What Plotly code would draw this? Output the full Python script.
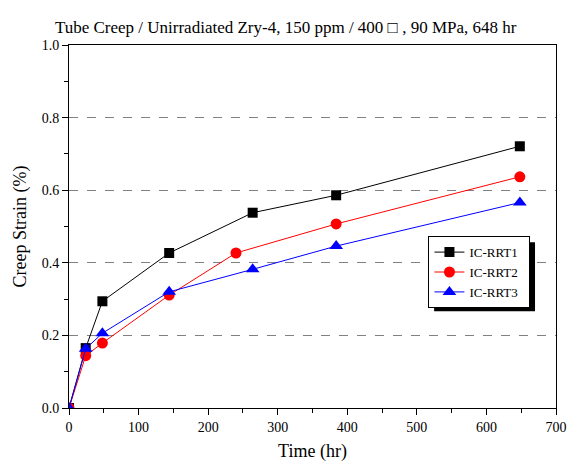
import plotly.graph_objects as go

time_rrt1 = [0, 24, 48, 144, 264, 384, 648]
strain_rrt1 = [0.0, 0.165, 0.294, 0.427, 0.538, 0.586, 0.721]
time_rrt2 = [0, 24, 48, 144, 240, 384, 648]
strain_rrt2 = [0.0, 0.144, 0.179, 0.311, 0.427, 0.507, 0.637]
time_rrt3 = [0, 24, 48, 144, 264, 384, 648]
strain_rrt3 = [0.0, 0.163, 0.206, 0.320, 0.382, 0.446, 0.566]

series = [
    ("IC-RRT1", time_rrt1, strain_rrt1, "black", "square", 10),
    ("IC-RRT2", time_rrt2, strain_rrt2, "#ff0000", "circle", 11),
    ("IC-RRT3", time_rrt3, strain_rrt3, "#0000ff", "triangle-up", 12),
]

FONT = "Liberation Serif"
fig = go.Figure()
for name, x, y, c, sym, sz in series:
    fig.add_trace(go.Scatter(x=x, y=y, name=name + "\u00a0\u00a0", mode="lines+markers",
                             line=dict(color=c, width=1),
                             marker=dict(color=c, symbol=sym, size=sz)))

W, H = 583, 470
ml, mr, mt, mb = 68.5, 27, 45, 62.3
pw, ph = W - ml - mr, H - mt - mb

def px_x(p):
    return (p - ml) / pw
def px_y(p):
    return (H - mb - p) / ph

# legend shadow
fig.add_shape(type="rect", xref="paper", yref="paper",
              x0=px_x(434), x1=px_x(535), y0=px_y(311), y1=px_y(242),
              fillcolor="black", line=dict(width=0), layer="above")

fig.update_layout(
    width=W, height=H,
    margin=dict(l=ml, r=mr, t=mt, b=mb),
    paper_bgcolor="white", plot_bgcolor="white",
    font=dict(family=FONT, size=14, color="black"),
    title=dict(text="Tube Creep / Unirradiated Zry-4, 150 ppm / 400 \u25a1 , 90 MPa, 648 hr",
               x=0.49, xanchor="center", y=0.943, yanchor="middle",
               font=dict(family=FONT, size=17, color="black")),
    showlegend=True,
    legend=dict(x=px_x(428.3), y=px_y(236), xanchor="left", yanchor="top",
                bgcolor="white", bordercolor="black", borderwidth=1,
                font=dict(family=FONT, size=13, color="black"),
                tracegroupgap=0, itemwidth=30),
    xaxis=dict(range=[0, 700], tickvals=list(range(0, 701, 100)),
               showgrid=False, zeroline=False,
               showline=True, linecolor="black", linewidth=1, mirror=True,
               ticks="outside", ticklen=6, tickcolor="black",
               minor=dict(tickvals=list(range(50, 700, 100)), ticks="outside", ticklen=4, tickcolor="black"),
               title=dict(text="Time (hr)", font=dict(family=FONT, size=18), standoff=10),
               tickfont=dict(family=FONT, size=14)),
    yaxis=dict(range=[0, 1.0], tickvals=[0, 0.2, 0.4, 0.6, 0.8, 1.0],
               ticktext=["0.0", "0.2", "0.4", "0.6", "0.8", "1.0"],
               showgrid=True, gridcolor="#808080", griddash="dash", gridwidth=1,
               zeroline=False,
               showline=True, linecolor="black", linewidth=1, mirror=True,
               ticks="outside", ticklen=6, tickcolor="black",
               minor=dict(tickvals=[0.1, 0.3, 0.5, 0.7, 0.9], ticks="outside", ticklen=4, tickcolor="black", showgrid=False),
               title=dict(text="Creep Strain (%)", font=dict(family=FONT, size=18), standoff=10),
               tickfont=dict(family=FONT, size=14)),
)

fig.write_html("out.html", config={"displayModeBar": False},
               post_script="document.body.style.margin='0';")
